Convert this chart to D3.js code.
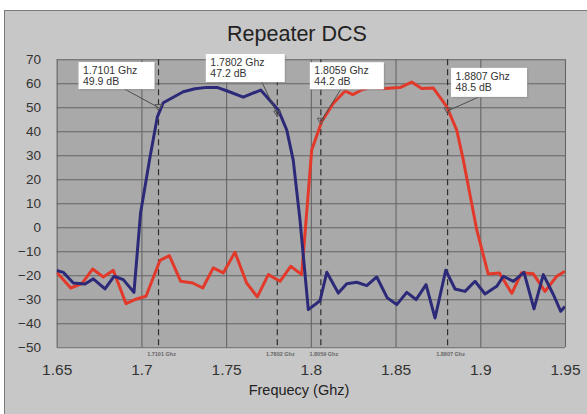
<!DOCTYPE html>
<html><head><meta charset="utf-8">
<script src="https://cdn.jsdelivr.net/npm/d3@7"></script>
<style>
html,body{margin:0;padding:0;background:#fff;}
svg{display:block;font-family:"Liberation Sans",Arial,sans-serif;}
</style></head>
<body><svg id="c" width="587" height="414"></svg>
<script>
// ---- data ----
const chartTitle = "Repeater DCS";
const xAxisTitle = "Frequecy (Ghz)";
const xTicks = [1.65, 1.7, 1.75, 1.8, 1.85, 1.9, 1.95];
const yTicks = [-50, -40, -30, -20, -10, 0, 10, 20, 30, 40, 50, 60, 70];

const blueFreq = [1.65, 1.654, 1.6598, 1.6667, 1.6716, 1.6785, 1.6838, 1.6893, 1.6956, 1.6995,
  1.7051, 1.7094, 1.7129, 1.7247, 1.7316, 1.7385, 1.745, 1.7503, 1.7601, 1.7704, 1.7808, 1.7858,
  1.7896, 1.7936, 1.7985, 1.8054, 1.8094, 1.8162, 1.8212, 1.8271, 1.8330, 1.8389, 1.8451, 1.8507,
  1.8566, 1.8621, 1.8680, 1.8733, 1.8796, 1.8851, 1.8910, 1.8969, 1.9028, 1.9097, 1.9136, 1.9195,
  1.9258, 1.9317, 1.9372, 1.9431, 1.9475, 1.95];
const blueDb = [-18, -18.8, -23.2, -23.6, -21.5, -25.7, -20.4, -21.8, -27.1, 6,
  29.4, 46, 51.9, 56.5, 57.7, 58.3, 58.2, 56.9, 54.2, 57.2, 48.9, 40.5,
  28, 3, -34.3, -30.6, -18.75, -27.4, -23.5, -22.9, -24.3, -20.7, -29.4, -32.2,
  -27.1, -30.1, -23.9, -37.8, -17.9, -25.7, -26.7, -22.5, -27.8, -24.6, -20.4, -22.5,
  -18.75, -34, -19.7, -28, -35, -33];

const redFreq = [1.65, 1.6583, 1.6648, 1.6712, 1.6775, 1.6834, 1.6909, 1.6962, 1.7027, 1.7110,
  1.7165, 1.7232, 1.7303, 1.7362, 1.7424, 1.7483, 1.7552, 1.7621, 1.7684, 1.7749, 1.7818, 1.7881,
  1.7946, 1.8005, 1.8064, 1.8133, 1.8202, 1.8247, 1.8300, 1.8349, 1.8438, 1.8526, 1.8595, 1.8654,
  1.8723, 1.8802, 1.8861, 1.8900, 1.8949, 1.8979, 1.9047, 1.9112, 1.9186, 1.9244, 1.9313, 1.9382,
  1.9451, 1.95];
const redDb = [-18.75, -25.3, -23.5, -17.4, -20.7, -17.9, -31.8, -30.1, -28.75, -13.75,
  -11.8, -22.5, -23.2, -25.3, -16.9, -19, -10.4, -23.2, -29, -19.7, -22.5, -16.25,
  -19.7, 32.2, 44, 51.7, 56.8, 55.3, 57.2, 58.2, 57.8, 58.2, 60.5, 57.8,
  58, 50.3, 40.5, 28, 10, -1, -19.5, -19, -27.5, -18.9, -19.4, -26.7,
  -20.4, -18.3];

const markerFreq = [1.7101, 1.7802, 1.8059, 1.8807];
const markerDb = [49.9, 47.2, 44.2, 48.5];
const markerFreqLabel = ["1.7101 Ghz", "1.7802 Ghz", "1.8059 Ghz", "1.8807 Ghz"];
const markerDbLabel = ["49.9 dB", "47.2 dB", "44.2 dB", "48.5 dB"];

// ---- layout ----
const W = 587, H = 414;
const P = {l: 56.7, r: 565, t: 59.3, b: 347.3};
const boxLayout = [ // offsets of callout boxes relative to marker
  {dx: -80, dy: -45.5, w: 76, h: 27, lx: 46},
  {dx: -71.5, dy: -60, w: 79, h: 28, lx: 56},
  {dx: -11, dy: -59, w: 74, h: 27, lx: 31},
  {dx: 3.5, dy: -43, w: 76, h: 29, lx: 28}
];

const svg = d3.select("#c");
const x = d3.scaleLinear().domain([1.65, 1.95]).range([P.l, P.r]);
const y = d3.scaleLinear().domain([-50, 70]).range([P.b, P.t]);

// background frame
svg.append("rect").attr("x", 0).attr("y", 0).attr("width", W).attr("height", H).attr("fill", "#fff");
svg.append("rect").attr("x", 4.5).attr("y", 10.5).attr("width", W).attr("height", H)
  .attr("fill", "#c7c7c7").attr("stroke", "#7a7a7a").attr("stroke-width", 1);

// plot area
svg.append("rect").attr("x", P.l).attr("y", P.t).attr("width", P.r - P.l).attr("height", P.b - P.t)
  .attr("fill", "#a9a9a9");
svg.append("line").attr("x1", P.l).attr("x2", P.r + 1).attr("y1", P.b + 1.5).attr("y2", P.b + 1.5)
  .attr("stroke", "#d6d6d6").attr("stroke-width", 1);

// grid
const gy = svg.append("g").attr("transform", `translate(${P.l},0)`)
  .call(d3.axisLeft(y).tickValues(yTicks).tickSize(-(P.r - P.l)).tickFormat(""));
gy.select(".domain").remove();
gy.selectAll("line").attr("stroke", "#666").attr("stroke-width", 1.1);
const gx = svg.append("g").attr("transform", `translate(0,${P.b})`)
  .call(d3.axisBottom(x).tickValues(xTicks).tickSize(-(P.b - P.t)).tickFormat(""));
gx.select(".domain").remove();
gx.selectAll("line").attr("stroke", "#666").attr("stroke-width", 1.1);

// tick labels
const ay = svg.append("g").attr("transform", `translate(41,0)`)
  .call(d3.axisLeft(y).tickValues(yTicks).tickSize(0).tickPadding(0).tickFormat(d3.format("d")));
ay.select(".domain").remove();
ay.selectAll("text").attr("font-size", 13.5).attr("fill", "#333").attr("font-family", "Liberation Sans, Arial, sans-serif");
const ax = svg.append("g").attr("transform", `translate(0,${P.b})`)
  .call(d3.axisBottom(x).tickValues(xTicks).tickSize(0).tickPadding(17).tickFormat(d => String(d)));
ax.select(".domain").remove();
ax.selectAll("text").attr("font-size", 15.5).attr("fill", "#333").attr("font-family", "Liberation Sans, Arial, sans-serif");

// marker dashed lines + tiny labels
markerFreq.forEach((f, i) => {
  svg.append("line").attr("x1", x(f)).attr("x2", x(f)).attr("y1", P.t).attr("y2", P.b)
    .attr("stroke", "#2e2e2e").attr("stroke-width", 1.2).attr("stroke-dasharray", "6,4");
  svg.append("text").attr("x", x(f) + 3).attr("y", P.b + 8.5).attr("text-anchor", "middle")
    .attr("font-size", 5.5).attr("font-weight", "bold").attr("fill", "#666").text(markerFreqLabel[i]);
});

// series
const line = d3.line().x(d => x(d[0])).y(d => y(d[1]));
svg.append("clipPath").attr("id", "pc").append("rect")
  .attr("x", P.l).attr("y", P.t - 2).attr("width", P.r - P.l).attr("height", P.b - P.t + 4);
svg.append("path").datum(d3.zip(redFreq, redDb)).attr("d", line).attr("fill", "none")
  .attr("stroke", "#e2392b").attr("stroke-width", 3).attr("stroke-linejoin", "round").attr("clip-path", "url(#pc)");
svg.append("path").datum(d3.zip(blueFreq, blueDb)).attr("d", line).attr("fill", "none")
  .attr("stroke", "#2c2a78").attr("stroke-width", 3).attr("stroke-linejoin", "round").attr("clip-path", "url(#pc)");

// markers and callouts
markerFreq.forEach((f, i) => {
  const mx = x(f), my = y(markerDb[i]);
  const b = boxLayout[i];
  const bx = mx + b.dx, by = my + b.dy;
  svg.append("line").attr("x1", bx + b.lx).attr("y1", by + b.h).attr("x2", mx).attr("y2", my)
    .attr("stroke", "#444").attr("stroke-width", 0.9);
  svg.append("path").attr("d", `M${mx - 3.5},${my - 3}L${mx + 3.5},${my - 3}L${mx},${my + 3}Z`)
    .attr("fill", "none").attr("stroke", "#555").attr("stroke-width", 1);
  svg.append("rect").attr("x", bx + 1.5).attr("y", by + 1.5).attr("width", b.w).attr("height", b.h)
    .attr("fill", "#8a8a8a").attr("opacity", 0.5);
  svg.append("rect").attr("x", bx).attr("y", by).attr("width", b.w).attr("height", b.h)
    .attr("fill", "#fff");
  svg.append("text").attr("x", bx + 4.5).attr("y", by + 12).attr("font-size", 10.5).attr("fill", "#333")
    .text(markerFreqLabel[i]);
  svg.append("text").attr("x", bx + 4.5).attr("y", by + 23).attr("font-size", 10.5).attr("fill", "#333")
    .text(markerDbLabel[i]);
});

// titles
svg.append("text").attr("x", 297).attr("y", 41).attr("text-anchor", "middle")
  .attr("font-size", 21.5).attr("fill", "#222").text(chartTitle);
svg.append("text").attr("x", 299).attr("y", 395).attr("text-anchor", "middle")
  .attr("font-size", 14.5).attr("fill", "#222").text(xAxisTitle);
</script></body></html>
